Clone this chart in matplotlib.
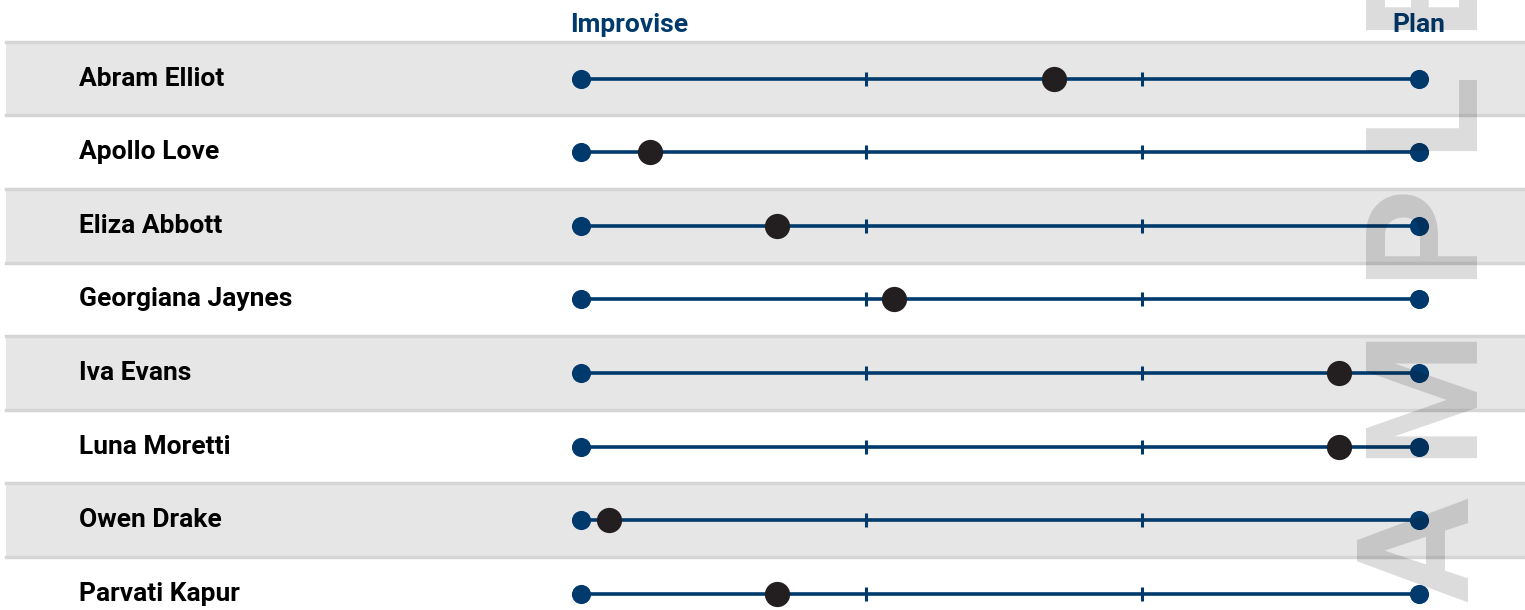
import matplotlib
matplotlib.use("Agg")
import matplotlib.pyplot as plt
import matplotlib.transforms as mtransforms

plt.rcParams['font.family'] = ['Roboto', 'DejaVu Sans']

# data
names = ['Abram Elliot', 'Apollo Love', 'Eliza Abbott', 'Georgiana Jaynes',
         'Iva Evans', 'Luna Moretti', 'Owen Drake', 'Parvati Kapur']
scores = [56.4, 8.2, 23.4, 37.4, 90.5, 90.4, 3.3, 23.4]
scale_min, scale_max = 0, 100
tick_marks = [34, 67]
left_label = 'Improvise'
right_label = 'Plan'
watermark = 'SAMPLE'

NAVY = '#003a6c'
DOT = '#231f20'
BAND = '#e6e6e6'
EDGE = '#d5d5d5'

W, H = 1525, 610
fig = plt.figure(figsize=(W / 100, H / 100), dpi=100)
ax = fig.add_axes([0, 0, 1, 1])
ax.set_axis_off()

# pixel layout -> data limits
x0_px, x1_px = 581, 1419
px_per_unit = (x1_px - x0_px) / (scale_max - scale_min)
ax.set_xlim(scale_min - x0_px / px_per_unit, scale_max + (W - x1_px) / px_per_unit)
row0_px, row_px = 78.5, 73.6
ax.set_ylim((H - row0_px) / row_px, -row0_px / row_px)

n = len(names)
band_x0 = 6 / W
for i in range(n):
    if i % 2 == 0:
        ax.axhspan(i - 0.5, i + 0.5, xmin=band_x0, xmax=1, color=BAND, lw=0, zorder=0)
        ax.axhline(i - 0.5, xmin=band_x0, xmax=1, color=EDGE, lw=2.5, zorder=0.5)
        ax.axhline(i + 0.5, xmin=band_x0, xmax=1, color=EDGE, lw=2.5, zorder=0.5)

ys = list(range(n))
ax.hlines(ys, scale_min, scale_max, color=NAVY, lw=2.6, zorder=2)
for t in tick_marks:
    ax.plot([t] * n, ys, ls='none', marker='|', ms=9.5, mew=2.2, color=NAVY, zorder=2)
ax.scatter([scale_min] * n, ys, s=190, color=NAVY, lw=0, zorder=3)
ax.scatter([scale_max] * n, ys, s=190, color=NAVY, lw=0, zorder=3)
ax.scatter(scores, ys, s=330, color=DOT, lw=0, zorder=4)

# names
trans = mtransforms.blended_transform_factory(fig.transFigure, ax.transData)
for i, name in enumerate(names):
    ax.text(79 / W, i, name, transform=trans, ha='left', va='center',
            fontsize=19, fontweight='bold', color='black')

# end labels
ax.text(scale_min - 11 / px_per_unit, -0.73, left_label, ha='left', va='center',
        fontsize=19, fontweight='bold', color=NAVY)
ax.text(scale_max, -0.73, right_label, ha='center', va='center',
        fontsize=19, fontweight='bold', color=NAVY)

# watermark, letter-spaced, reading bottom to top
wm_centers = [700, 550, 390, 229, 109, -14]
for ch, yc in zip(watermark, wm_centers):
    fig.text(1426 / W, 1 - yc / H, ch, rotation=90, ha='center', va='center',
             fontsize=112, fontweight='bold', color='black', alpha=0.14, zorder=10)

fig.savefig('out.png', dpi=100)
